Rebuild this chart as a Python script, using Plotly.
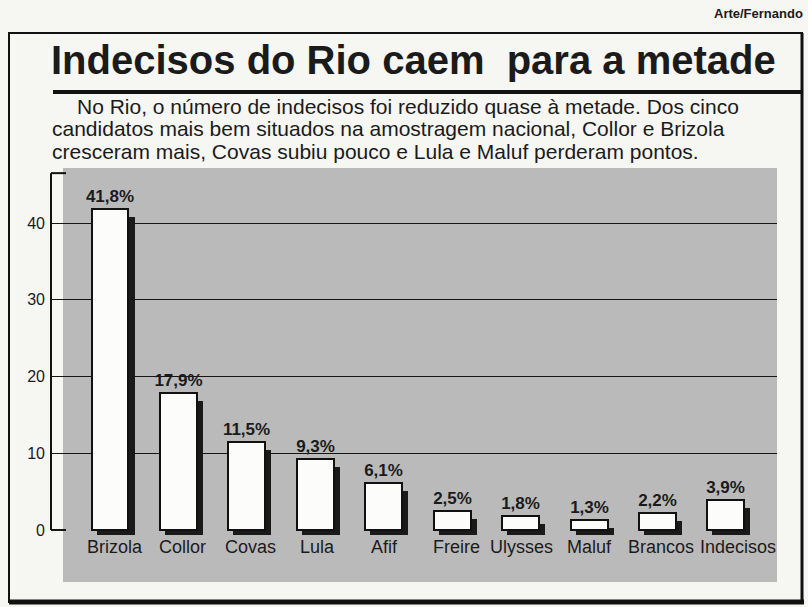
import plotly.graph_objects as go

# ---- data ----
categories = ["Brizola", "Collor", "Covas", "Lula", "Afif", "Freire",
              "Ulysses", "Maluf", "Brancos", "Indecisos"]
values = [41.8, 17.9, 11.5, 9.3, 6.1, 2.5, 1.8, 1.3, 2.2, 3.9]
y_ticks = [0, 10, 20, 30, 40]
title = "Indecisos do Rio caem  para a metade"
subtitle_lines = [
    "No Rio, o número de indecisos foi reduzido quase à metade. Dos cinco",
    "candidatos mais bem situados na amostragem nacional, Collor e Brizola",
    "cresceram mais, Covas subiu pouco e Lula e Maluf perderam pontos.",
]
credit = "Arte/Fernando"

value_labels = [f"{v:.1f}%".replace(".", ",") for v in values]

# ---- geometry / style ----
W, H = 808, 607
L, R, T, B = 50, 31, 168, 25
PW = W - L - R
PH = H - T - B
label_xshift = [5, 4, 4, 2, 1, 4, 1, 0, 3, 12]


def px(x):
    return (x - L) / PW


def py(y):
    return (H - B - y) / PH


FONT = "Liberation Sans, Arial, sans-serif"
INK = "#1b1b1b"
PANEL = "#bababa"
PAPER = "#f6f6f3"

idx = list(range(len(categories)))

fig = go.Figure()

# shadow bars
fig.add_trace(go.Bar(
    x=idx, y=[v - 1.04 + 0.65 for v in values], base=-0.65,
    width=0.555, offset=-0.197,
    marker=dict(color="#1a1a1a", line=dict(width=0)),
    hoverinfo="skip", showlegend=False,
))
# main bars
fig.add_trace(go.Bar(
    x=idx, y=values, width=0.54,
    marker=dict(color="#fcfcfa", line=dict(color="#111111", width=2)),
    text=value_labels, textposition="outside", cliponaxis=False,
    constraintext="none",
    textfont=dict(family=FONT, size=17, color=INK, weight="bold"),
    showlegend=False,
))

shapes = [
    # gray panel
    dict(type="rect", xref="paper", yref="paper", x0=px(63), x1=px(777),
         y0=py(582), y1=py(168), fillcolor=PANEL, line=dict(width=0), layer="below"),
    # outer frame
    dict(type="rect", xref="paper", yref="paper", x0=px(9), x1=px(802),
         y0=py(602), y1=py(33), line=dict(color="#111", width=2), layer="below"),
    dict(type="line", xref="paper", yref="paper", x0=px(9), x1=px(804),
         y0=py(602), y1=py(602), line=dict(color="#111", width=5)),
    dict(type="line", xref="paper", yref="paper", x0=px(802), x1=px(802),
         y0=py(602), y1=py(33), line=dict(color="#111", width=3)),
    # title underline
    dict(type="line", xref="paper", yref="paper", x0=px(53), x1=px(802),
         y0=py(92), y1=py(92), line=dict(color="#111", width=4)),
    # y axis line and end ticks
    dict(type="line", xref="paper", yref="y", x0=px(51), x1=px(51),
         y0=0, y1=46.5, line=dict(color="#111", width=2)),
    dict(type="line", xref="paper", yref="y", x0=px(51), x1=px(66),
         y0=46.5, y1=46.5, line=dict(color="#111", width=2)),
    dict(type="line", xref="paper", yref="y", x0=px(51), x1=px(66),
         y0=0, y1=0, line=dict(color="#111", width=2)),
]

annotations = [
    dict(text=credit, xref="paper", yref="paper", x=px(805), y=py(14),
         xanchor="right", yanchor="middle", showarrow=False,
         font=dict(family=FONT, size=13, color=INK, weight="bold")),
    dict(text=title, xref="paper", yref="paper", x=px(413), y=py(60),
         xanchor="center", yanchor="middle", showarrow=False,
         font=dict(family=FONT, size=40, color=INK, weight="bold")),
]
sub_x = [75, 50, 50]
sub_y = [106, 128, 151]
for line, sx, sy in zip(subtitle_lines, sub_x, sub_y):
    annotations.append(dict(text=line, xref="paper", yref="paper", x=px(sx), y=py(sy),
                            xanchor="left", yanchor="middle", showarrow=False,
                            font=dict(family=FONT, size=21, color=INK)))
for i, c, xs in zip(idx, categories, label_xshift):
    annotations.append(dict(text=c, x=i, y=0, xref="x", yref="y",
                            xanchor="center", yanchor="top", yshift=-5, xshift=xs,
                            showarrow=False,
                            font=dict(family=FONT, size=18, color=INK)))

fig.update_layout(
    width=W, height=H,
    margin=dict(l=L, r=R, t=T, b=B, pad=0),
    paper_bgcolor=PAPER, plot_bgcolor="rgba(0,0,0,0)",
    barmode="overlay", bargap=0,
    shapes=shapes, annotations=annotations,
    xaxis=dict(range=[-0.8767, 9.746], showticklabels=False, showgrid=False,
               zeroline=False, showline=False, ticks=""),
    yaxis=dict(range=[-6.78, 47.17], tickvals=y_ticks, ticks="", showline=False,
               showgrid=True, gridcolor="#151515", gridwidth=1.3,
               zeroline=True, zerolinecolor="rgba(0,0,0,0)",
               ticklabelstandoff=4,
               tickfont=dict(family=FONT, size=16, color=INK)),
)

fig.write_html("out.html", config={"displayModeBar": False},
               post_script="document.body.style.margin='0';document.body.style.overflow='hidden';")
